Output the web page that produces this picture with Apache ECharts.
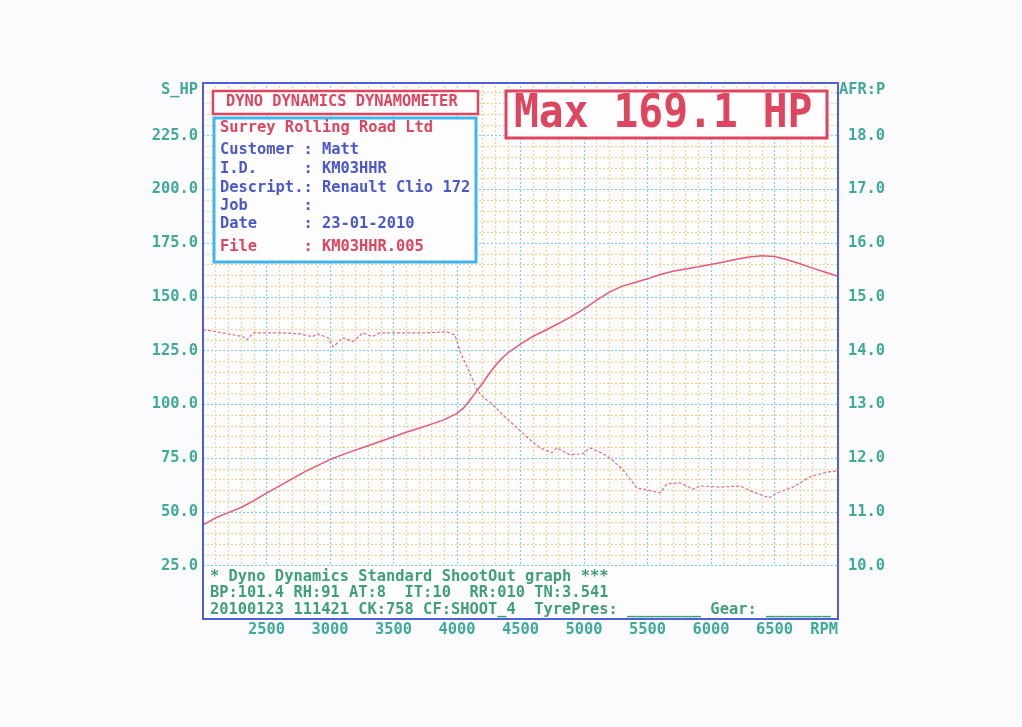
<!DOCTYPE html>
<html>
<head>
<meta charset="utf-8">
<script src="https://cdn.jsdelivr.net/npm/echarts@6/dist/echarts.min.js"></script>
<style>
html,body{margin:0;padding:0;background:#fbfbfd;}
#chart{width:1022px;height:727px;}
</style>
</head>
<body>
<div id="chart"></div>
<script>
// ---- data read from the dyno sheet ----
const powerRpm = [2000,2000,2100,2200,2300,2400,2500,2600,2700,2800,2900,3000,3100,3200,3300,3400,3500,3600,3700,3800,3900,4000,4050,4100,4150,4200,4250,4300,4350,4400,4500,4600,4700,4800,4900,5000,5100,5200,5300,5400,5500,5600,5700,5800,5900,6000,6100,6200,6300,6400,6500,6600,6700,6800,6900,7000];
const powerHp = [25,43.9,47.2,49.6,52.0,55.2,58.7,61.9,65.3,68.6,71.5,74.3,76.6,78.7,80.7,82.8,84.9,87.0,88.9,90.8,92.9,95.8,98.2,101.8,105.8,109.7,114.0,117.8,121.2,123.9,128.0,131.7,134.6,137.6,140.8,144.4,148.5,152.2,155.0,156.7,158.4,160.4,161.9,163.0,164.0,165.1,166.2,167.5,168.6,169.1,168.8,167.3,165.4,163.4,161.5,159.6];
const afrRpm = [2000,2157,2315,2346,2394,2630,2764,2858,2906,2984,3024,3102,3181,3260,3331,3394,3732,3921,3984,4024,4079,4157,4205,4283,4362,4472,4575,4654,4748,4787,4890,4992,5047,5126,5205,5307,5417,5496,5598,5654,5756,5858,5913,6071,6228,6331,6457,6520,6646,6780,6913,6992];
const afrVal = [14.39,14.33,14.26,14.20,14.33,14.33,14.31,14.26,14.31,14.24,14.07,14.24,14.17,14.33,14.26,14.33,14.33,14.35,14.29,13.98,13.70,13.27,13.14,12.99,12.80,12.56,12.34,12.19,12.10,12.19,12.06,12.08,12.19,12.11,12.00,11.78,11.44,11.41,11.35,11.52,11.54,11.42,11.48,11.46,11.48,11.37,11.26,11.35,11.46,11.65,11.74,11.76];
const rpmTicks = [2500,3000,3500,4000,4500,5000,5500,6000,6500];
const hpTicks = [25,50,75,100,125,150,175,200,225];
const afrTicks = [10,11,12,13,14,15,16,17,18];
const headerLines = [
  ["Surrey Rolling Road Ltd", "red"],
  ["Customer : Matt", "blue"],
  ["I.D.     : KM03HHR", "blue"],
  ["Descript.: Renault Clio 172", "blue"],
  ["Job      :", "blue"],
  ["Date     : 23-01-2010", "blue"],
  ["File     : KM03HHR.005", "red"]
];
const footerLines = [
  "* Dyno Dynamics Standard ShootOut graph ***",
  "BP:101.4 RH:91 AT:8  IT:10  RR:010 TN:3.541",
  "20100123 111421 CK:758 CF:SHOOT_4  TyrePres: ________ Gear: _______"
];
const maxText = "Max 169.1 HP";

// ---- chart ----
const MONO = '"DejaVu Sans Mono", "Liberation Mono", monospace';
const RED = '#e0455f';
const BLUE_TXT = '#4a58cc';
const TEAL = '#3fa99a';
const GREEN = '#3f9f76';
const FRAME = '#4f5fd6';

const chart = echarts.init(document.getElementById('chart'));
const zip = (a, b) => a.map((v, i) => [v, b[i]]);

const headerY = [128, 150, 169, 188, 206, 224, 247];
const footerY = [577, 593, 610];

const graphic = [
  // footer white area + frame
  {type:'rect', shape:{x:203, y:566, width:635, height:53}, style:{fill:'#fdfdfe'}, z:1},
  {type:'rect', shape:{x:203, y:83, width:635, height:536}, style:{fill:'none', stroke:FRAME, lineWidth:2}, z:10},
  // title box
  {type:'rect', shape:{x:213, y:91, width:265, height:23}, style:{fill:'#fdfdfe', stroke:RED, lineWidth:2.5}, z:20},
  {type:'text', x:226, y:102, style:{text:'DYNO DYNAMICS DYNAMOMETER', font:'bold 15.4px ' + MONO, fill:RED, textVerticalAlign:'middle'}, z:21},
  // info box
  {type:'rect', shape:{x:214, y:118, width:262, height:144}, style:{fill:'#fdfdfe', stroke:'#3fb6ec', lineWidth:3}, z:20},
  // max box
  {type:'rect', shape:{x:506, y:91, width:321, height:47}, style:{fill:'#fdfdfe', stroke:RED, lineWidth:3}, z:20},
  {type:'text', x:514, y:115, scaleY:1.12, style:{text:maxText, font:'bold 41.3px ' + MONO, fill:RED, textVerticalAlign:'middle'}, z:21},
  // axis names
  {type:'text', x:198, y:90, style:{text:'S_HP', font:'bold 15.4px ' + MONO, fill:TEAL, textAlign:'right', textVerticalAlign:'middle'}, z:21},
  {type:'text', x:839, y:90, style:{text:'AFR:P', font:'bold 15.4px ' + MONO, fill:TEAL, textVerticalAlign:'middle'}, z:21},
  {type:'text', x:838, y:630, style:{text:'RPM', font:'bold 15.4px ' + MONO, fill:TEAL, textAlign:'right', textVerticalAlign:'middle'}, z:21}
];
headerLines.forEach((l, i) => {
  graphic.push({type:'text', x:220, y:headerY[i], style:{text:l[0], font:'bold 15.4px ' + MONO, fill: l[1] === 'red' ? RED : BLUE_TXT, textVerticalAlign:'middle'}, z:21});
});
footerLines.forEach((t, i) => {
  graphic.push({type:'text', x:210, y:footerY[i], style:{text:t, font:'bold 15.4px ' + MONO, fill:GREEN, textVerticalAlign:'middle'}, z:21});
});

const option = {
  backgroundColor: '#fbfbfd',
  animation: false,
  grid: {left:203, right:184, top:82, bottom:161.5, show:true, backgroundColor:'#fdfdfe', borderWidth:0},
  xAxis: {
    type:'value', min:2000, max:7000, interval:500,
    axisLine:{show:false}, axisTick:{show:false},
    axisLabel:{margin:57, color:TEAL, fontFamily:MONO, fontSize:15.4, fontWeight:'bold',
      formatter: v => rpmTicks.indexOf(v) >= 0 ? String(v) : ''},
    splitLine:{show:true, lineStyle:{color:'#7fcdf2', type:[2,2], width:1.2}},
    minorTick:{show:false, splitNumber:5},
    minorSplitLine:{show:true, lineStyle:{color:'#eed394', type:[2,2], width:1.2}}
  },
  yAxis: [
    {
      type:'value', min:25, max:250, interval:25,
      axisLine:{show:false}, axisTick:{show:false},
      axisLabel:{margin:5, color:TEAL, fontFamily:MONO, fontSize:15.4, fontWeight:'bold',
        formatter: v => hpTicks.indexOf(v) >= 0 ? v.toFixed(1) : ''},
      splitLine:{show:true, lineStyle:{color:'#7fcdf2', type:[2,2], width:1.2}},
      minorTick:{show:false, splitNumber:5},
      minorSplitLine:{show:true, lineStyle:{color:'#eed394', type:[2,2], width:1.2}}
    },
    {
      type:'value', min:10, max:19, interval:1, position:'right',
      axisLine:{show:false}, axisTick:{show:false},
      axisLabel:{margin:10, color:TEAL, fontFamily:MONO, fontSize:15.4, fontWeight:'bold',
        formatter: v => afrTicks.indexOf(Math.round(v*10)/10) >= 0 ? v.toFixed(1) : ''},
      splitLine:{show:false}
    }
  ],
  series: [
    {type:'line', yAxisIndex:0, data: zip(powerRpm, powerHp), showSymbol:false, symbol:'none',
      lineStyle:{color:'#e6587a', width:1.5}, z:5},
    {type:'line', yAxisIndex:1, data: zip(afrRpm, afrVal), showSymbol:false, symbol:'none',
      lineStyle:{color:'#e66a8a', width:1.2, type:[3,2]}, z:5}
  ],
  graphic: graphic
};
chart.setOption(option);
</script>
</body>
</html>
